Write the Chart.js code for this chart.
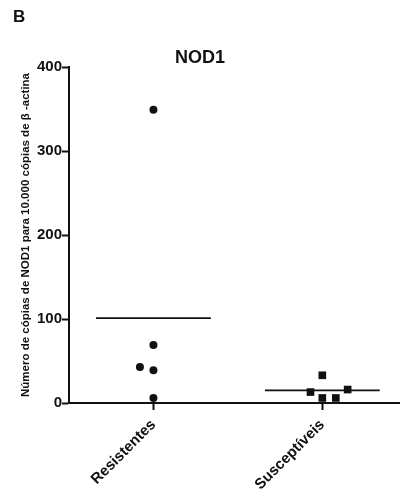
<!DOCTYPE html>
<html>
<head>
<meta charset="utf-8">
<script src="https://cdn.jsdelivr.net/npm/chart.js@4"></script>
<style>
  html, body { margin: 0; padding: 0; background: #fff; }
  #wrap { width: 400px; height: 498px; }
</style>
</head>
<body>
<div id="wrap"><canvas id="grafico"></canvas></div>
<script>
// dados
const grupos = ['Resistentes', 'Susceptíveis'];
const resistentesX = [1, 1, 0.92, 1, 1];
const resistentesY = [349, 69, 43, 39, 6];
const susceptiveisX = [2, 1.93, 2.15, 2, 2.08];
const susceptiveisY = [33, 13, 16, 6, 6];
const medias = [101, 15];
const ticksY = [0, 100, 200, 300, 400];

const preto = '#111';
const fonte = '"Liberation Sans", Arial, sans-serif';
const meiaLargura = 0.34;

function pontos(xs, ys) {
  return xs.map((x, i) => ({ x: x, y: ys[i] }));
}

function linhaMedia(i) {
  const c = i + 1;
  return [{ x: c - meiaLargura, y: medias[i] }, { x: c + meiaLargura, y: medias[i] }];
}

// letra do painel
const letraPainel = {
  id: 'letraPainel',
  afterDraw(chart) {
    const ctx = chart.ctx;
    ctx.save();
    ctx.fillStyle = preto;
    ctx.font = 'bold 17px ' + fonte;
    ctx.textBaseline = 'middle';
    ctx.fillText('B', 13, 17);
    ctx.restore();
  }
};

// o eixo x vai ate a borda direita do canvas
const eixoAteBorda = {
  id: 'eixoAteBorda',
  afterLayout(chart) {
    const x = chart.scales.x;
    x.right = chart.width;
    x.width = x.right - x.left;
    x.configure();
    chart.chartArea.right = chart.width;
    chart.chartArea.width = chart.chartArea.right - chart.chartArea.left;
  }
};

new Chart(document.getElementById('grafico'), {
  type: 'scatter',
  data: {
    datasets: [
      { label: grupos[0], data: pontos(resistentesX, resistentesY), pointStyle: 'circle', pointRadius: 4,
        backgroundColor: preto, borderColor: preto, borderWidth: 0 },
      { label: grupos[1], data: pontos(susceptiveisX, susceptiveisY), pointStyle: 'rect', pointRadius: 5.4,
        backgroundColor: preto, borderColor: preto, borderWidth: 0 },
      { label: 'media1', data: linhaMedia(0), showLine: true, pointRadius: 0, borderColor: preto, borderWidth: 1.6 },
      { label: 'media2', data: linhaMedia(1), showLine: true, pointRadius: 0, borderColor: preto, borderWidth: 1.6 }
    ]
  },
  options: {
    responsive: true,
    maintainAspectRatio: false,
    animation: false,
    layout: { padding: 0 },
    plugins: {
      legend: { display: false },
      tooltip: { enabled: false },
      title: {
        display: true,
        text: 'NOD1',
        color: preto,
        font: { family: fonte, size: 18, weight: 'bold', lineHeight: 1 },
        padding: { top: 49, bottom: 0 }
      }
    },
    scales: {
      x: {
        type: 'linear',
        min: 0.5,
        max: 2.46,
        afterBuildTicks: (s) => { s.ticks = grupos.map((g, i) => ({ value: i + 1 })); },
        afterFit: (s) => { s.height = 95; },
        ticks: {
          callback: (v) => grupos[v - 1] || '',
          minRotation: 45,
          maxRotation: 45,
          padding: 6,
          color: preto,
          font: { family: fonte, size: 15, weight: 'bold' }
        },
        grid: { drawOnChartArea: false, tickLength: 7, tickWidth: 2, tickColor: preto },
        border: { display: true, color: preto, width: 2 }
      },
      y: {
        min: 0,
        max: 400,
        afterBuildTicks: (s) => { s.ticks = ticksY.map(v => ({ value: v })); },
        afterFit: (s) => { s.width = 69; },
        ticks: {
          padding: 0,
          color: preto,
          font: { family: fonte, size: 15, weight: 'bold' }
        },
        grid: { drawOnChartArea: false, tickLength: 7, tickWidth: 2, tickColor: preto },
        border: { display: true, color: preto, width: 2 },
        title: {
          display: true,
          text: 'Número de cópias de NOD1 para 10.000 cópias de β -actina',
          color: preto,
          font: { family: fonte, size: 11.5, weight: 'bold' },
          padding: { top: 19, bottom: 0 }
        }
      }
    }
  },
  plugins: [letraPainel, eixoAteBorda]
});
</script>
</body>
</html>
